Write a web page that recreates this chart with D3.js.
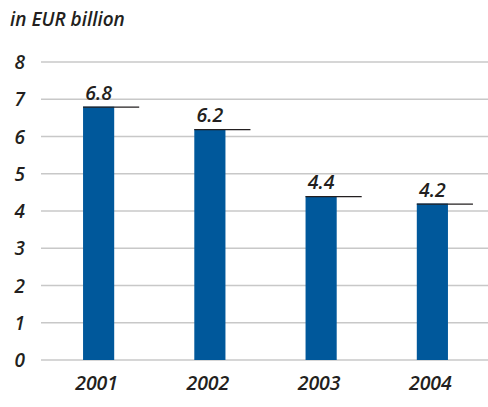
<!DOCTYPE html>
<html><head><meta charset="utf-8">
<script src="https://cdn.jsdelivr.net/npm/d3@7"></script>
<style>
body{margin:0;background:#fff;}
svg text{font-family:"Open Sans",sans-serif;font-style:italic;font-weight:600;fill:#231f20;}
</style></head>
<body><svg id="c" width="488" height="407"></svg>
<script>
const years = ["2001","2002","2003","2004"];
const values = [6.8, 6.2, 4.4, 4.2];
const valueLabels = ["6.8","6.2","4.4","4.2"];
const yTicks = [0,1,2,3,4,5,6,7,8];
const title = "in EUR billion";

const svg = d3.select("#c");
const x = d3.scaleBand().domain(years).range([43,488]).paddingInner(0.72).paddingOuter(0.36);
const y = d3.scaleLinear().domain([0,8]).range([360,62]);

svg.append("text").attr("x",10).attr("y",26).attr("font-size",19).text(title);

svg.append("g").selectAll("line").data(yTicks).join("line")
  .attr("x1",41).attr("x2",488).attr("y1",d=>y(d)).attr("y2",d=>y(d))
  .attr("stroke","#c8c8c8").attr("stroke-width",1.5);
svg.append("g").selectAll("text").data(yTicks).join("text")
  .attr("x",25).attr("y",d=>y(d)+7).attr("text-anchor","end").attr("font-size",19).text(d=>d);

const g = svg.append("g").selectAll("g").data(years).join("g");
g.append("rect").attr("x",d=>x(d)).attr("width",x.bandwidth())
  .attr("y",(d,i)=>y(values[i])).attr("height",(d,i)=>y(0)-y(values[i])).attr("fill","#00589b");
g.append("line").attr("x1",d=>x(d)).attr("x2",d=>x(d)+x.bandwidth()+25)
  .attr("y1",(d,i)=>y(values[i])+0.5).attr("y2",(d,i)=>y(values[i])+0.5)
  .attr("stroke","#231f20").attr("stroke-width",1.2);
g.append("text").attr("x",d=>x(d)+x.bandwidth()/2).attr("y",(d,i)=>y(values[i])-7)
  .attr("text-anchor","middle").attr("font-size",19.5).text((d,i)=>valueLabels[i]);
g.append("text").attr("x",d=>x(d)+x.bandwidth()/2-2).attr("y",390)
  .attr("text-anchor","middle").attr("font-size",19.5).text(d=>d);
</script></body></html>
